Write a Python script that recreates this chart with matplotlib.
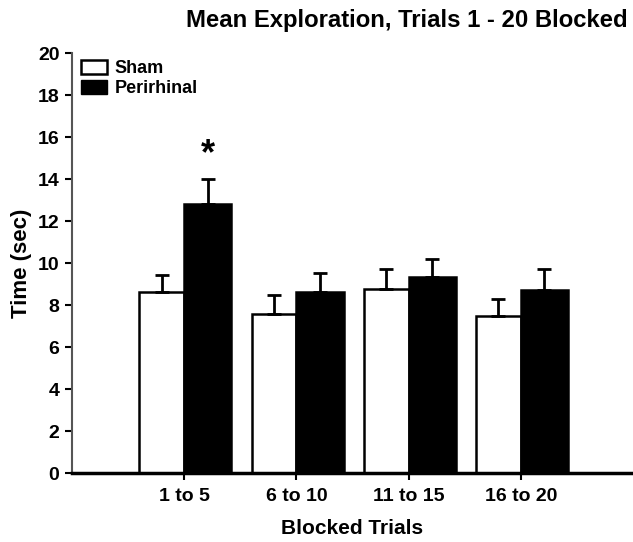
import numpy as np
import matplotlib.pyplot as plt
from matplotlib.patches import Patch

plt.rcParams['font.family'] = ['Liberation Sans', 'DejaVu Sans']
plt.rcParams['font.weight'] = 'bold'

blocks = ['1 to 5', '6 to 10', '11 to 15', '16 to 20']
sham = [8.62, 7.57, 8.76, 7.48]
sham_err = [0.81, 0.91, 0.95, 0.81]
peri = [12.81, 8.62, 9.33, 8.71]
peri_err = [1.19, 0.90, 0.86, 1.0]

fig = plt.figure(figsize=(6.33, 5.42), dpi=100)
ax = fig.add_axes([0.1137, 0.1273, 0.8863, 0.7749])

x = np.arange(1, len(blocks) + 1)
w = 0.4
ekw = dict(ecolor='black', elinewidth=2, capsize=5, capthick=2)
ax.bar(x, sham, width=-w, align='edge', color='white', edgecolor='black', linewidth=1.8,
       yerr=[np.zeros(4), sham_err], error_kw=ekw, zorder=2)
ax.bar(x, peri, width=w + 0.02, align='edge', color='black', edgecolor='black', linewidth=1.8,
       yerr=[np.zeros(4), peri_err], error_kw=ekw, zorder=2)
ax.text(x[0] + 0.21, peri[0] + peri_err[0] + 1.15, '*', ha='center', va='center', fontsize=26, fontweight='bold')

ax.set_xlim(0, 5)
ax.set_ylim(0, 20)
ax.set_yticks(np.arange(0, 21, 2))
ax.set_xticks(x)
ax.set_xticklabels(blocks)
ax.tick_params(axis='both', labelsize=14, width=1.5, length=5)
ax.tick_params(axis='x', pad=6)
ax.tick_params(axis='y', pad=4)
for s in ['top', 'right']:
    ax.spines[s].set_visible(False)
ax.spines['left'].set_linewidth(1.5)
ax.spines['left'].set_color('#555555')
ax.spines['bottom'].set_linewidth(2.5)

ax.set_xlabel('Blocked Trials', fontsize=15, fontweight='bold', labelpad=10)
ax.set_ylabel('Time (sec)', fontsize=16, fontweight='bold', labelpad=4)
fig.text(0.992, 0.962, 'Mean Exploration, Trials 1 - 20 Blocked', ha='right', va='center',
         fontsize=17.2, fontweight='bold')

handles = [Patch(facecolor='white', edgecolor='black', linewidth=1.8, label='Sham'),
           Patch(facecolor='black', edgecolor='black', label='Perirhinal')]
ax.legend(handles=handles, loc='upper left', bbox_to_anchor=(0.003, 1.0), frameon=False,
          fontsize=13, handlelength=1.45, handleheight=0.8, handletextpad=0.4, labelspacing=0.15,
          borderaxespad=0.0)

fig.savefig('out.png', dpi=100)
